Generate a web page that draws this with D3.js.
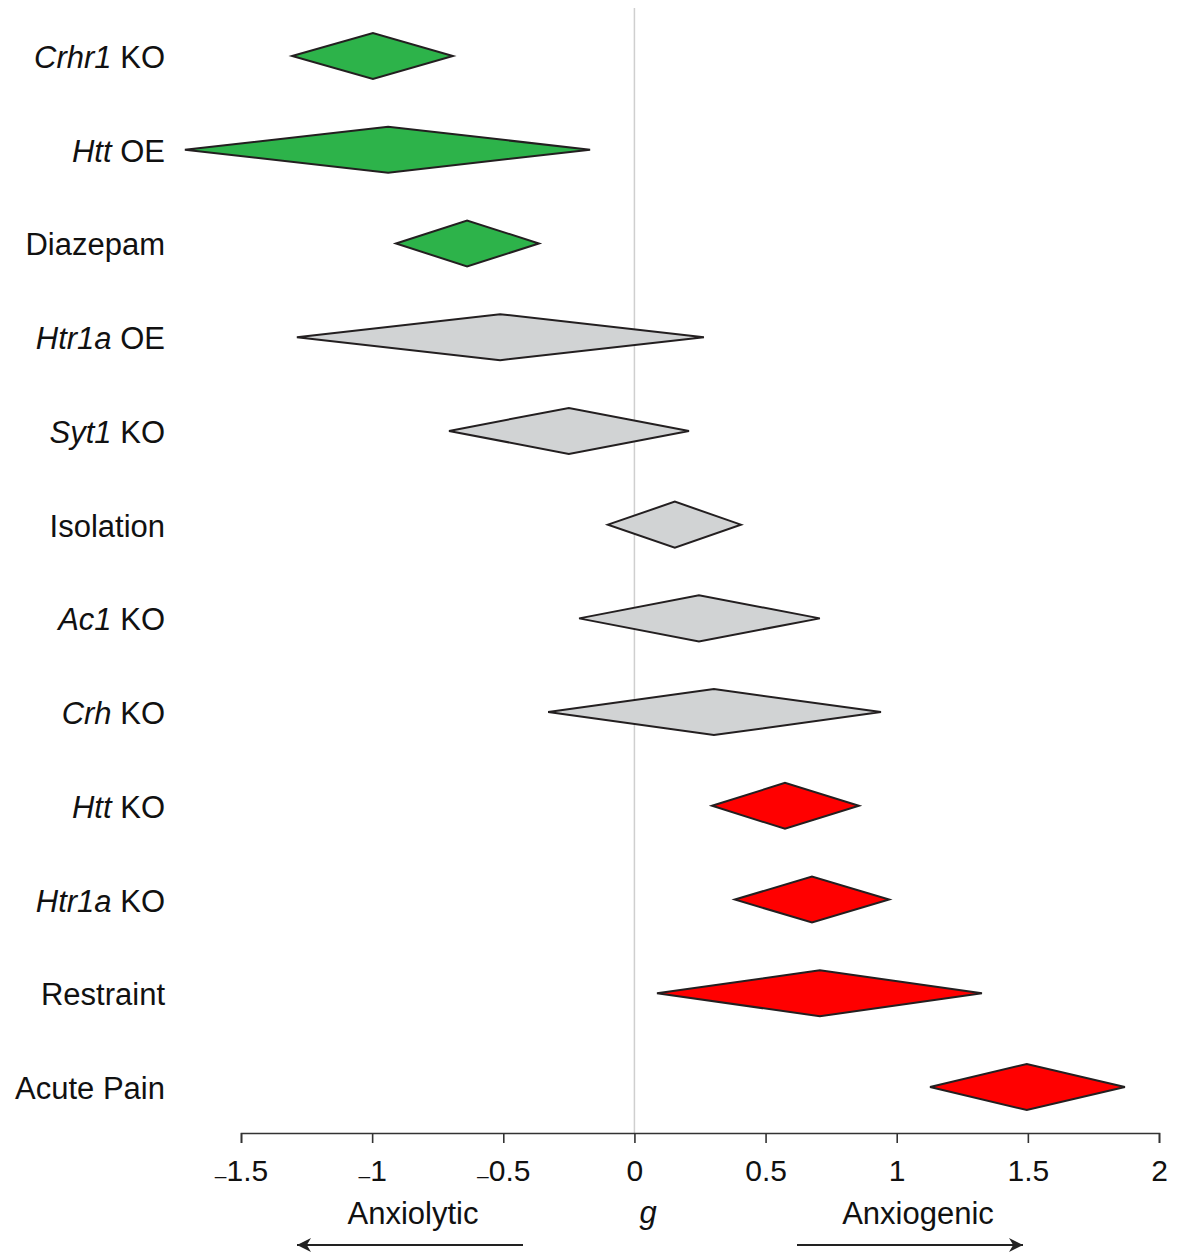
<!DOCTYPE html>
<html>
<head>
<meta charset="utf-8">
<script src="https://cdn.jsdelivr.net/npm/d3@7"></script>
<style>
  body { margin: 0; background: #fff; }
  svg text { font-family: "Liberation Sans", Arial, Helvetica, sans-serif; fill: #111; }
</style>
</head>
<body>
<div id="chart"></div>
<script>
const width = 1183,
   height = 1254;

// row labels: italic gene part + plain part
const genes = ['Crhr1', 'Htt', '', 'Htr1a', 'Syt1', '', 'Ac1', 'Crh', 'Htt', 'Htr1a', '', ''];
const suffixes = [' KO', ' OE', 'Diazepam', ' OE', ' KO', 'Isolation', ' KO', ' KO', ' KO', ' KO', 'Restraint', 'Acute Pain'];

// effect size g: lower CI, estimate, upper CI
const lower = [-1.305, -1.714, -0.909, -1.287, -0.707, -0.101, -0.211, -0.329, 0.296, 0.383, 0.086, 1.127];
const estimate = [-0.997, -0.939, -0.638, -0.512, -0.250, 0.154, 0.246, 0.303, 0.574, 0.677, 0.707, 1.496];
const upper = [-0.692, -0.169, -0.364, 0.265, 0.208, 0.406, 0.707, 0.940, 0.856, 0.971, 1.325, 1.870];
const groups = ['lytic', 'lytic', 'lytic', 'ns', 'ns', 'ns', 'ns', 'ns', 'genic', 'genic', 'genic', 'genic'];

const xTicks = [-1.5, -1, -0.5, 0, 0.5, 1, 1.5, 2];

const data = genes.map((g, i) => ({
   id: i, gene: g, suffix: suffixes[i],
   lo: lower[i], est: estimate[i], hi: upper[i], group: groups[i]
}));

const svg = d3.select('#chart')
   .append('svg')
   .attr('width', width)
   .attr('height', height);

const x = d3.scaleLinear()
   .domain([-1.5, 2])
   .range([241, 1159]);

const y = d3.scalePoint()
   .domain(data.map(d => d.id))
   .range([56, 1087]);

const colorScale = d3.scaleOrdinal()
   .domain(['lytic', 'ns', 'genic'])
   .range(['#2db34a', '#d1d3d4', '#ff0000']);

const halfH = 23,
   axisY = 1133;

// zero line
svg.append('line')
   .attr('x1', x(0)).attr('x2', x(0))
   .attr('y1', 8).attr('y2', axisY)
   .attr('stroke', '#cfcfcf')
   .attr('stroke-width', 1.5);

// diamonds
svg.selectAll('.diamond')
   .data(data)
   .join('path')
   .attr('class', 'diamond')
   .attr('d', d => {
      const cy = y(d.id);
      return `M${x(d.lo)},${cy}L${x(d.est)},${cy - halfH}L${x(d.hi)},${cy}L${x(d.est)},${cy + halfH}Z`;
   })
   .attr('fill', d => colorScale(d.group))
   .attr('stroke', '#231f20')
   .attr('stroke-width', 2)
   .attr('stroke-linejoin', 'miter');

// row labels
const labels = svg.selectAll('.label')
   .data(data)
   .join('text')
   .attr('class', 'label')
   .attr('x', 165)
   .attr('y', d => y(d.id) + 12)
   .attr('text-anchor', 'end')
   .attr('font-size', 31);

labels.append('tspan')
   .attr('font-style', 'italic')
   .text(d => d.gene);
labels.append('tspan')
   .text(d => d.suffix);

// x axis
const axis = svg.append('g')
   .attr('transform', `translate(0, ${axisY})`)
   .call(d3.axisBottom(x)
      .tickValues(xTicks)
      .tickSize(10)
      .tickSizeOuter(10)
      .tickPadding(12)
      .tickFormat(d => ''));

axis.selectAll('path, line')
   .attr('stroke', '#333')
   .attr('stroke-width', 1.6);

axis.selectAll('.tick text')
   .attr('font-size', 30)
   .attr('font-family', '"Liberation Sans", Arial, sans-serif')
   .attr('fill', '#111')
   .attr('y', 48)
   .attr('dy', 0)
   .each(function(d) {
      const t = d3.select(this);
      if (d < 0) {
         t.append('tspan').attr('font-size', 21).attr('dy', 2).text('\u2013');
         t.append('tspan').attr('dy', -2).text(String(Math.abs(d)));
      } else {
         t.text(String(d));
      }
   });

// axis titles
svg.append('text')
   .attr('x', 648)
   .attr('y', 1223)
   .attr('text-anchor', 'middle')
   .attr('font-size', 31)
   .attr('font-style', 'italic')
   .text('g');

svg.append('text')
   .attr('x', 413)
   .attr('y', 1224)
   .attr('text-anchor', 'middle')
   .attr('font-size', 31)
   .text('Anxiolytic');

svg.append('text')
   .attr('x', 918)
   .attr('y', 1224)
   .attr('text-anchor', 'middle')
   .attr('font-size', 31)
   .text('Anxiogenic');

// arrows
const defs = svg.append('defs');
defs.append('marker')
   .attr('id', 'arrow')
   .attr('viewBox', '0 0 10 10')
   .attr('refX', 10)
   .attr('refY', 5)
   .attr('markerWidth', 18)
   .attr('markerHeight', 14)
   .attr('markerUnits', 'userSpaceOnUse')
   .attr('orient', 'auto')
   .append('path')
   .attr('d', 'M0,0L10,5L0,10L3,5Z')
   .attr('fill', '#222');

svg.append('line')
   .attr('x1', 523).attr('x2', 297)
   .attr('y1', 1245).attr('y2', 1245)
   .attr('stroke', '#222')
   .attr('stroke-width', 1.8)
   .attr('marker-end', 'url(#arrow)');

svg.append('line')
   .attr('x1', 797).attr('x2', 1023)
   .attr('y1', 1245).attr('y2', 1245)
   .attr('stroke', '#222')
   .attr('stroke-width', 1.8)
   .attr('marker-end', 'url(#arrow)');
</script>
</body>
</html>
